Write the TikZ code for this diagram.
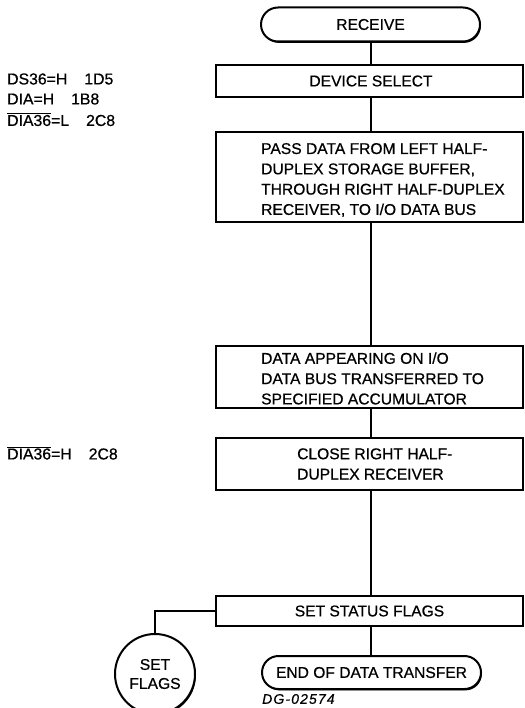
\documentclass[tikz,border=0pt]{standalone}
\usepackage{fontspec}
\setmainfont[FakeBold=0.6]{Liberation Sans}
\usetikzlibrary{shapes.misc,shadows}
\begin{document}
\begin{tikzpicture}[x=1pt,y=-1pt,
  every node/.style={font=\fontsize{15.6}{20.3}\selectfont},
  frame/.style={draw=black,line width=2pt,fill=white,
    drop shadow={shadow xshift=0.9pt,shadow yshift=-1.4pt,opacity=1,fill=black}},
  stepbox/.style={frame,rectangle,minimum width=307pt,inner sep=0pt},
  term/.style={frame,rounded rectangle,minimum width=219pt,minimum height=34pt,inner sep=0pt},
  flagcirc/.style={frame,circle,minimum size=80pt,inner sep=0pt,align=center,font=\fontsize{15.6}{19}\selectfont},
  txt/.style={inner sep=0pt,align=left,anchor=west},
  sig/.style={inner sep=0pt,anchor=west,font=\fontsize{15.8}{19}\selectfont},
  link/.style={line width=2.1pt}]
\useasboundingbox (0,0) rectangle (524,708);
\fill[white] (0,0) rectangle (524,708);
\coordinate (spine) at (371,0);

% main column
\node[term] (receive) at (370.5,24.5) {RECEIVE};
\node[stepbox,minimum height=32pt] (devsel) at (369.5,81) {\hspace*{3pt}DEVICE SELECT};
\node[stepbox,minimum height=90pt] (pass) at (369.5,177) {};
\node[txt] (passtxt) at (261,180) {PASS DATA FROM LEFT HALF-\\DUPLEX STORAGE BUFFER,\\THROUGH RIGHT HALF-DUPLEX\\RECEIVER, TO I/O DATA BUS};
\node[stepbox,minimum height=62pt] (accum) at (369.5,377) {};
\node[txt] (accumtxt) at (261,378.5) {DATA APPEARING ON I/O\\DATA BUS TRANSFERRED TO\\SPECIFIED ACCUMULATOR};
\node[stepbox,minimum height=52pt] (close) at (369.5,464) {};
\node[txt] (closetxt) at (297,464) {CLOSE RIGHT HALF-\\DUPLEX RECEIVER};
\node[stepbox,minimum height=30pt] (status) at (369.5,611) {SET STATUS FLAGS};
\node[term,minimum height=33pt] (endt) at (371.5,672.5) {END OF DATA TRANSFER};
\node[flagcirc] (flags) at (155,674) {SET\\FLAGS};
\node[inner sep=0pt,anchor=west,font=\fontsize{14}{16}\selectfont\itshape\addfontfeature{LetterSpace=8}] (dg) at (262,699) {DG-02574};

% signal labels
\node[sig] (ds36) at (7,79) {DS36=H\hspace{17pt}1D5};
\node[sig] (dia) at (7,99) {DIA=H\hspace{17pt}1B8};
\node[sig] (dial) at (7,119.5) {$\overline{\mbox{DIA36}}$=L\hspace{17pt}2C8};
\node[sig] (diah) at (7,453) {$\overline{\mbox{DIA36}}$=H\hspace{17pt}2C8};

% connectors
\draw[link] (spine |- receive.south) -- (spine |- devsel.north);
\draw[link] (spine |- devsel.south) -- (spine |- pass.north);
\draw[link] (spine |- pass.south) -- (spine |- accum.north);
\draw[link] (spine |- accum.south) -- (spine |- close.north);
\draw[link] (spine |- close.south) -- (spine |- status.north);
\draw[link] (spine |- status.south) -- (spine |- endt.north);
\draw[link] (status.west) -| (flags.north);
\end{tikzpicture}
\end{document}
